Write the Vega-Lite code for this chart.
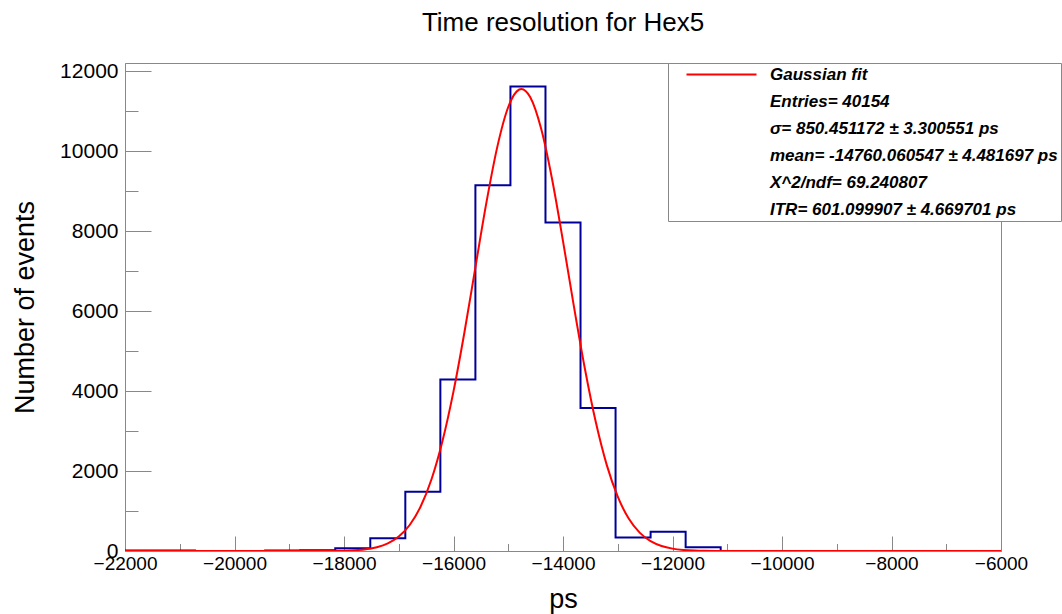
{
  "$schema": "https://vega.github.io/schema/vega-lite/v6.json",
  "width": 876,
  "height": 488,
  "autosize": {"type": "none"},
  "padding": {"left": 125, "top": 63, "right": 61, "bottom": 63},
  "background": "white",
  "config": {
    "font": "Liberation Sans",
    "view": {"stroke": "#888888", "strokeWidth": 1},
    "axis": {"domainColor": "#888888", "tickColor": "#888888", "labelColor": "black", "titleColor": "black", "grid": false, "labelFont": "Liberation Sans", "titleFont": "Liberation Sans", "titleFontWeight": "normal"}
  },
  "title": {
    "text": "Time resolution for Hex5",
    "font": "Liberation Sans",
    "fontSize": 26,
    "fontWeight": "normal",
    "color": "black",
    "anchor": "middle",
    "frame": "group",
    "baseline": "alphabetic",
    "offset": 3
  },
  "datasets": {
    "hist": [
      {"ps": -22000, "count": 15},
      {"ps": -21360, "count": 12},
      {"ps": -20720, "count": 0},
      {"ps": -20080, "count": 0},
      {"ps": -19440, "count": 10},
      {"ps": -18800, "count": 20},
      {"ps": -18160, "count": 70},
      {"ps": -17520, "count": 320},
      {"ps": -16880, "count": 1480},
      {"ps": -16240, "count": 4290},
      {"ps": -15600, "count": 9150},
      {"ps": -14960, "count": 11620},
      {"ps": -14320, "count": 8220},
      {"ps": -13680, "count": 3580},
      {"ps": -13040, "count": 340},
      {"ps": -12400, "count": 484},
      {"ps": -11760, "count": 93},
      {"ps": -11120, "count": 0},
      {"ps": -6000, "count": 0}
    ],
    "fit": [
      {"ps": -22000, "f": 0}, {"ps": -19000, "f": 0}, {"ps": -18400, "f": 1.2}, {"ps": -18200, "f": 3.2},
      {"ps": -18000, "f": 8.2}, {"ps": -17800, "f": 19.4}, {"ps": -17600, "f": 43.8}, {"ps": -17400, "f": 93.4},
      {"ps": -17200, "f": 188.6}, {"ps": -17000, "f": 360.2}, {"ps": -16800, "f": 651}, {"ps": -16600, "f": 1113},
      {"ps": -16400, "f": 1801}, {"ps": -16200, "f": 2757}, {"ps": -16000, "f": 3993}, {"ps": -15800, "f": 5473},
      {"ps": -15600, "f": 7098}, {"ps": -15400, "f": 8709}, {"ps": -15200, "f": 10112}, {"ps": -15000, "f": 11109},
      {"ps": -14800, "f": 11547}, {"ps": -14760, "f": 11560}, {"ps": -14600, "f": 11357}, {"ps": -14400, "f": 10569},
      {"ps": -14200, "f": 9307}, {"ps": -14000, "f": 7755}, {"ps": -13800, "f": 6113}, {"ps": -13600, "f": 4560},
      {"ps": -13400, "f": 3219}, {"ps": -13200, "f": 2149}, {"ps": -13000, "f": 1358}, {"ps": -12800, "f": 812},
      {"ps": -12600, "f": 459}, {"ps": -12400, "f": 246}, {"ps": -12200, "f": 124.5}, {"ps": -12000, "f": 59.7},
      {"ps": -11800, "f": 27.1}, {"ps": -11600, "f": 11.6}, {"ps": -11400, "f": 4.7}, {"ps": -11200, "f": 1.8},
      {"ps": -10500, "f": 0}, {"ps": -6000, "f": 0}
    ]
  },
  "layer": [
    {
      "data": {"name": "hist"},
      "mark": {"type": "line", "interpolate": "step-after", "color": "#000099", "strokeWidth": 2, "clip": true},
      "encoding": {
        "x": {
          "field": "ps", "type": "quantitative",
          "scale": {"domain": [-22000, -6000], "nice": false, "zero": false},
          "axis": {
            "title": "ps",
            "titleFontSize": 27,
            "titleBaseline": "alphabetic",
            "titleY": 56,
            "values": [-22000, -21500, -21000, -20500, -20000, -19500, -19000, -18500, -18000, -17500, -17000, -16500, -16000, -15500, -15000, -14500, -14000, -13500, -13000, -12500, -12000, -11500, -11000, -10500, -10000, -9500, -9000, -8500, -8000, -7500, -7000, -6500, -6000],
            "format": "d",
            "labelExpr": "datum.value % 2000 === 0 ? datum.label : ''",
            "labelOverlap": false,
            "labelFlush": false,
            "labelFontSize": 19,
            "labelPadding": 18,
            "tickSize": {"condition": {"test": "datum.value % 2000 === 0", "value": -15}, "value": -7.5}
          }
        },
        "y": {
          "field": "count", "type": "quantitative",
          "scale": {"domain": [0, 12210], "nice": false, "zero": true},
          "axis": {
            "title": "Number of events",
            "titleFontSize": 27,
            "titleBaseline": "alphabetic",
            "titleAlign": "center",
            "titleAngle": 270,
            "titleX": -92,
            "titleY": 244,
            "values": [0, 500, 1000, 1500, 2000, 2500, 3000, 3500, 4000, 4500, 5000, 5500, 6000, 6500, 7000, 7500, 8000, 8500, 9000, 9500, 10000, 10500, 11000, 11500, 12000],
            "format": "d",
            "labelExpr": "datum.value % 2000 === 0 ? datum.label : ''",
            "labelOverlap": false,
            "labelFlush": false,
            "labelFontSize": 21,
            "labelPadding": 33,
            "tickSize": {"condition": {"test": "datum.value % 2000 === 0", "value": -26}, "value": -13}
          }
        }
      }
    },
    {
      "data": {"name": "fit"},
      "mark": {"type": "line", "interpolate": "monotone", "strokeWidth": 2, "clip": true},
      "encoding": {
        "x": {"field": "ps", "type": "quantitative"},
        "y": {"field": "f", "type": "quantitative"},
        "color": {
          "datum": "Gaussian fit",
          "type": "nominal",
          "scale": {
            "domain": ["Gaussian fit", "Entries= 40154", "σ= 850.451172 ± 3.300551 ps", "mean= -14760.060547 ± 4.481697 ps", "Χ^2/ndf= 69.240807", "ITR= 601.099907 ± 4.669701 ps"],
            "range": ["#ff0000", "transparent", "transparent", "transparent", "transparent", "transparent"]
          },
          "legend": {
            "title": null,
            "orient": "none",
            "legendX": 543,
            "legendY": 0,
            "direction": "vertical",
            "columns": 1,
            "symbolType": "M 1.4 0 L 15.4 0",
            "symbolSize": 100,
            "symbolStrokeWidth": 2,
            "labelFont": "Liberation Sans",
            "labelFontSize": 17,
            "labelFontStyle": "italic",
            "labelFontWeight": "bold",
            "labelColor": "black",
            "labelOffset": 82,
            "labelLimit": 0,
            "rowPadding": 9,
            "padding": 3,
            "fillColor": "white",
            "strokeColor": "#888888"
          }
        }
      }
    }
  ]
}
